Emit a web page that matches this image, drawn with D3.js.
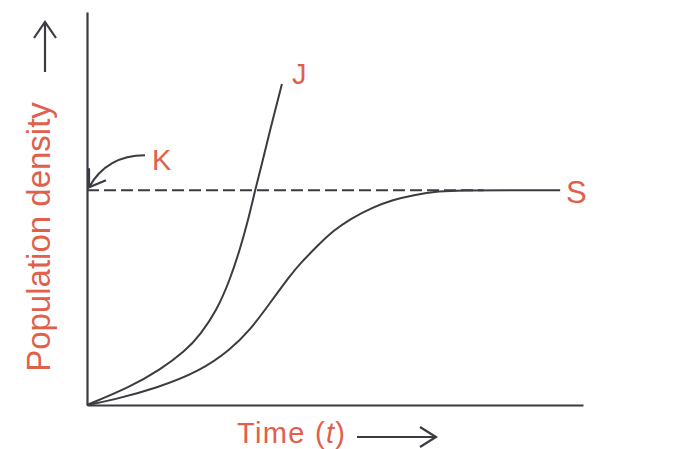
<!DOCTYPE html>
<html><head><meta charset="utf-8">
<script src="https://cdn.jsdelivr.net/npm/d3@7"></script>
<style>html,body{margin:0;padding:0;background:#fff;overflow:hidden;}svg{display:block;}</style>
</head><body>
<svg id="c" width="690" height="449"></svg>
<script>
// Data (time units 0–100, density units where K = 100)
const carryingCapacity = 100;
const jTime    = [0, 8.7, 14.7, 19.8, 22.8, 26.2, 28.8, 30.8, 32.5, 33.9, 35.3, 36.9, 39.3];
const jDensity = [0, 8.4, 16.3, 25.1, 32.6, 44.2, 58.2, 72.2, 86.1, 100.1, 112.6, 128.0, 149.5];
const sTime    = [0, 5.2, 14.1, 22.8, 28.8, 32.9, 36.9, 40.9, 42.9, 47.0, 49.6, 53.0, 57.7, 61.7, 65.7, 71.2, 75.2, 85.3, 95.4];
const sDensity = [0, 2.3, 7.9, 15.8, 25.6, 34.9, 47.5, 60.1, 65.7, 75.4, 81.0, 86.6, 92.2, 95.5, 97.8, 99.6, 100, 100, 100];
const kLineEnd = 80;
const labels = {y: "Population density", x: "Time (", xVar: "t", xEnd: ")", k: "K", j: "J", s: "S"};

const ink = "#3b3b42", red = "#e0604c";
const svg = d3.select("#c");
const x = d3.scaleLinear().domain([0, 100]).range([87, 583]);
const y = d3.scaleLinear().domain([0, 183]).range([405, 12]);

// axes (no ticks)
svg.append("g").attr("transform", `translate(0,${y(0)})`)
  .call(d3.axisBottom(x).tickValues([]).tickSizeOuter(0))
  .select(".domain").attr("stroke", ink).attr("stroke-width", 2.2);
svg.append("g").attr("transform", `translate(${x(0)},0)`)
  .call(d3.axisLeft(y).tickValues([]).tickSizeOuter(0))
  .select(".domain").attr("stroke", ink).attr("stroke-width", 2.2);

// K dashed line
svg.append("line")
  .attr("x1", x(0)).attr("x2", x(kLineEnd))
  .attr("y1", y(carryingCapacity)).attr("y2", y(carryingCapacity))
  .attr("stroke", ink).attr("stroke-width", 2).attr("stroke-dasharray", "12,5");

const line = d3.line().x(d => x(d[0])).y(d => y(d[1])).curve(d3.curveBasis);
svg.append("path").datum(jTime.map((t, i) => [t, jDensity[i]]))
  .attr("d", line).attr("fill", "none").attr("stroke", ink).attr("stroke-width", 2);
svg.append("path").datum(sTime.map((t, i) => [t, sDensity[i]]))
  .attr("d", line).attr("fill", "none").attr("stroke", ink).attr("stroke-width", 2);

// K annotation arrow
const tipX = x(0) + 2, tipY = y(carryingCapacity) - 3;
svg.append("path")
  .attr("d", `M${tipX + 56},${tipY - 32} Q${tipX + 18},${tipY - 32} ${tipX},${tipY}`)
  .attr("fill", "none").attr("stroke", ink).attr("stroke-width", 2.2);
svg.append("path")
  .attr("d", `M${tipX},${tipY - 19} L${tipX},${tipY} L${tipX + 17},${tipY - 7}`)
  .attr("fill", "none").attr("stroke", ink).attr("stroke-width", 2.2);

const font = "'Liberation Sans', Arial, Helvetica, sans-serif";
svg.append("text").attr("x", 152).attr("y", 170).text(labels.k)
  .attr("fill", red).attr("font-family", font).attr("font-size", 29);
svg.append("text").attr("x", x(jTime[jTime.length - 1]) + 10).attr("y", 84).text(labels.j)
  .attr("fill", red).attr("font-family", font).attr("font-size", 29);
svg.append("text").attr("x", 566).attr("y", 203).text(labels.s)
  .attr("fill", red).attr("font-family", font).attr("font-size", 31);

// X label
const xt = svg.append("text").attr("x", 237).attr("y", 443)
  .attr("textLength", 108).attr("lengthAdjust", "spacing")
  .attr("fill", red).attr("font-family", font).attr("font-size", 29);
xt.append("tspan").text(labels.x);
xt.append("tspan").attr("font-style", "italic").text(labels.xVar);
xt.append("tspan").text(labels.xEnd);
// x arrow
svg.append("path").attr("d", "M357,437 H435 M420,427 L436,437 L420,447")
  .attr("fill", "none").attr("stroke", ink).attr("stroke-width", 2.2);

// Y label
svg.append("text").attr("transform", "translate(50,237) rotate(-90)")
  .attr("text-anchor", "middle").text(labels.y)
  .attr("fill", red).attr("font-family", font).attr("font-size", 33);
// y arrow
svg.append("path").attr("d", "M45,72 V22 M34,38 L45,22 L56,38")
  .attr("fill", "none").attr("stroke", ink).attr("stroke-width", 2.2);
</script>
</body></html>
